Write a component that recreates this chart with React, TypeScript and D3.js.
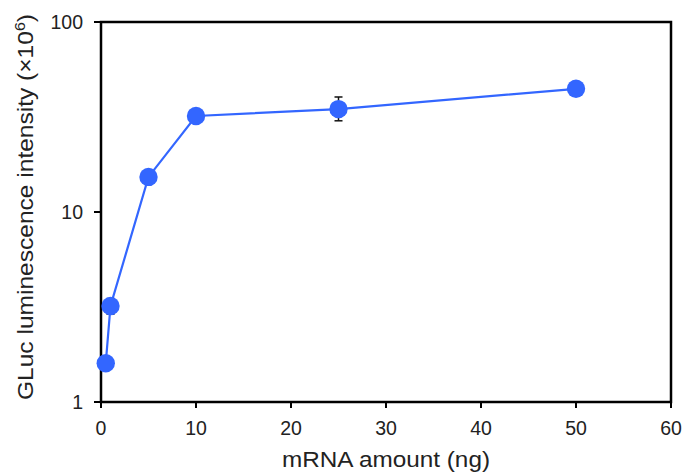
import React from 'react'
import * as d3 from 'd3'

const doses = [0.5, 1, 5, 10, 25, 50]
const intensity = [1.6, 3.2, 15.3, 32, 34.8, 44.5]
const errLow = [1.6, 2.9, 15.3, 32, 30.2, 44.5]
const errHigh = [1.6, 3.5, 15.3, 32, 40.3, 44.5]
const xTicks = [0, 10, 20, 30, 40, 50, 60]
const yTicks = [1, 10, 100]

const W = 688
const H = 474
const m = { left: 101, top: 22, right: 17, bottom: 72 }
const blue = '#3366ff'
const font = 'Liberation Sans, Arial, sans-serif'

export default function App() {
  const x = d3.scaleLinear().domain([0, 60]).range([m.left, W - m.right])
  const y = d3.scaleLog().domain([1, 100]).range([H - m.bottom, m.top])
  const pts = doses.map((d, i) => ({ x: d, y: intensity[i], lo: errLow[i], hi: errHigh[i] }))
  const line = d3.line<any>().x(d => x(d.x)).y(d => y(d.y))
  const x0 = x(0), x1 = x(60), yb = y(1), yt = y(100)

  return (
    <svg width={W} height={H} style={{ position: 'absolute', left: 0, top: 0, background: '#fff' }}>
      <rect x={x0} y={yt} width={x1 - x0} height={yb - yt} fill="none" stroke="#000" strokeWidth={2.5} />
      {xTicks.map(t => (
        <g key={'x' + t}>
          <line x1={x(t)} x2={x(t)} y1={yb} y2={yb + 6} stroke="#000" strokeWidth={2} />
          <text x={x(t)} y={yb + 33} textAnchor="middle" fontFamily={font} fontSize={19.5} fill="#222">{t}</text>
        </g>
      ))}
      {yTicks.map(t => (
        <g key={'y' + t}>
          <line x1={x0 - 7} x2={x0} y1={y(t)} y2={y(t)} stroke="#000" strokeWidth={2} />
          <text x={x0 - 18} y={y(t) + 7} textAnchor="end" fontFamily={font} fontSize={19.5} fill="#222">{t}</text>
        </g>
      ))}
      <text x={386} y={467} textAnchor="middle" fontFamily={font} fontSize={21.5} fill="#222"
        textLength={208} lengthAdjust="spacingAndGlyphs">mRNA amount (ng)</text>
      <text transform={`translate(33,${207}) rotate(-90)`} textAnchor="middle" fontFamily={font} fontSize={21.5} fill="#222"
        textLength={386} lengthAdjust="spacingAndGlyphs">
        GLuc luminescence intensity (×10<tspan dy={-8} fontSize={14}>6</tspan><tspan dy={8}>)</tspan>
      </text>
      <path d={line(pts) || ''} fill="none" stroke={blue} strokeWidth={2.2} />
      {pts.filter(p => p.hi > p.lo).map(p => (
        <g key={'e' + p.x} stroke="#111" strokeWidth={1.5}>
          <line x1={x(p.x)} x2={x(p.x)} y1={y(p.hi)} y2={y(p.lo)} />
          <line x1={x(p.x) - 4} x2={x(p.x) + 4} y1={y(p.hi)} y2={y(p.hi)} />
          <line x1={x(p.x) - 4} x2={x(p.x) + 4} y1={y(p.lo)} y2={y(p.lo)} />
        </g>
      ))}
      {pts.map(p => (
        <circle key={'c' + p.x} cx={x(p.x)} cy={y(p.y)} r={9.2} fill={blue} />
      ))}
    </svg>
  )
}
